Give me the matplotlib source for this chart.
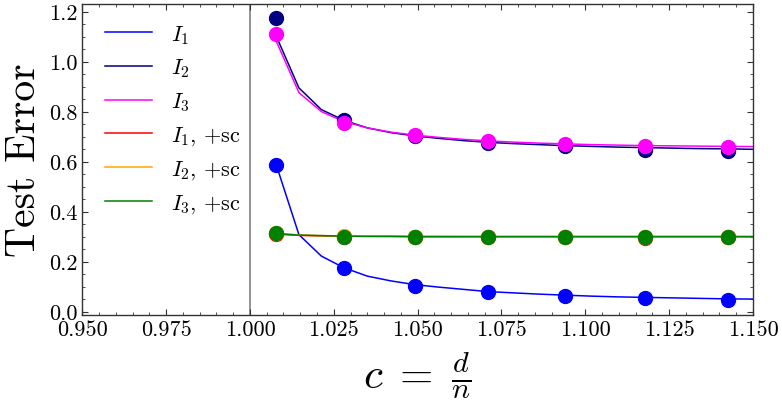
import matplotlib
matplotlib.use("Agg")
import matplotlib.pyplot as plt

plt.rcParams['font.family'] = 'serif'
plt.rcParams['font.serif'] = ['cmr10', 'DejaVu Serif']
plt.rcParams['mathtext.fontset'] = 'cm'
plt.rcParams['axes.formatter.use_mathtext'] = True

# ---- data ----
x_line = [1.0079, 1.0146, 1.0213, 1.0281, 1.0350, 1.0420, 1.0491, 1.0563, 1.0637, 1.0711,
          1.0786, 1.0862, 1.0939, 1.1017, 1.1097, 1.1177, 1.1259, 1.1342, 1.1426, 1.1512]
x_mark = [1.0079, 1.0281, 1.0491, 1.0711, 1.0939, 1.1177, 1.1426]

I1_line = [0.585, 0.308, 0.222, 0.175, 0.142, 0.123, 0.108, 0.098, 0.089, 0.080,
           0.075, 0.070, 0.066, 0.062, 0.059, 0.057, 0.055, 0.053, 0.051, 0.050]
I2_line = [1.100, 0.895, 0.808, 0.765, 0.735, 0.716, 0.703, 0.693, 0.684, 0.677,
           0.672, 0.668, 0.664, 0.661, 0.658, 0.656, 0.654, 0.652, 0.651, 0.649]
I3_line = [1.080, 0.876, 0.800, 0.760, 0.735, 0.718, 0.706, 0.697, 0.689, 0.683,
           0.678, 0.674, 0.671, 0.668, 0.666, 0.664, 0.663, 0.662, 0.661, 0.660]
I1sc_line = [0.310, 0.305, 0.303, 0.302, 0.301, 0.301, 0.300, 0.300, 0.300, 0.300,
             0.300, 0.300, 0.300, 0.300, 0.300, 0.300, 0.300, 0.300, 0.300, 0.300]
I2sc_line = [0.313, 0.307, 0.304, 0.303, 0.302, 0.301, 0.301, 0.301, 0.300, 0.300,
             0.300, 0.300, 0.300, 0.300, 0.300, 0.300, 0.300, 0.300, 0.300, 0.300]
I3sc_line = [0.312, 0.306, 0.304, 0.302, 0.301, 0.301, 0.300, 0.300, 0.300, 0.300,
             0.300, 0.300, 0.300, 0.300, 0.300, 0.300, 0.300, 0.300, 0.300, 0.300]

I1_mark = [0.587, 0.174, 0.104, 0.079, 0.061, 0.053, 0.045]
I2_mark = [1.174, 0.766, 0.702, 0.674, 0.662, 0.648, 0.642]
I3_mark = [1.112, 0.755, 0.706, 0.683, 0.670, 0.663, 0.658]
I1sc_mark = [0.312, 0.300, 0.300, 0.299, 0.299, 0.295, 0.297]
I2sc_mark = [0.313, 0.301, 0.300, 0.300, 0.300, 0.298, 0.298]
I3sc_mark = [0.313, 0.300, 0.300, 0.300, 0.300, 0.299, 0.297]

labels = [r"$I_1$", r"$I_2$", r"$I_3$", r"$I_1$, +sc", r"$I_2$, +sc", r"$I_3$, +sc"]
colors = ["#0000ff", "#000080", "#ff00ff", "#ff0000", "#ffa500", "#008000"]
lines = [I1_line, I2_line, I3_line, I1sc_line, I2sc_line, I3sc_line]
marks = [I1_mark, I2_mark, I3_mark, I1sc_mark, I2sc_mark, I3sc_mark]

fig = plt.figure(figsize=(7.82, 4.06), dpi=100)
ax = fig.add_axes([0.1052, 0.2229, 0.8577, 0.7648])

ax.axvline(1.0, color="#808080", lw=1.2, zorder=1)
for lab, col, yl, ym in zip(labels, colors, lines, marks):
    ax.plot(x_line, yl, color=col, lw=1.1, label=lab, zorder=2)
    ax.plot(x_mark, ym, 'o', color=col, ms=10, zorder=3)

ax.set_xlim(0.95, 1.15)
ax.set_ylim(-0.0115, 1.2305)
ax.set_xticks([0.95, 0.975, 1.0, 1.025, 1.05, 1.075, 1.1, 1.125, 1.15])
ax.set_xticklabels(["0.950", "0.975", "1.000", "1.025", "1.050", "1.075", "1.100", "1.125", "1.150"])
ax.set_yticks([0.0, 0.2, 0.4, 0.6, 0.8, 1.0, 1.2])
ax.set_yticklabels(["0.0", "0.2", "0.4", "0.6", "0.8", "1.0", "1.2"])
ax.xaxis.set_minor_locator(matplotlib.ticker.MultipleLocator(0.005))
ax.yaxis.set_minor_locator(matplotlib.ticker.MultipleLocator(0.05))
ax.tick_params(which='both', direction='in', top=True, right=True, labelsize=16, color='#333333')
ax.tick_params(which='major', length=4.5, width=0.8)
ax.tick_params(which='minor', length=2.5, width=0.6)
for s in ax.spines.values():
    s.set_linewidth(1.0)
    s.set_color('#333333')

ax.set_ylabel("Test Error", fontsize=30, labelpad=4)
ax.set_xlabel(r"$c\;=\;\frac{d}{n}$", fontsize=31, labelpad=7)

ax.legend(loc="upper left", bbox_to_anchor=(0.0206, 0.968), frameon=False, fontsize=16,
          handlelength=2.1, handletextpad=0.85, labelspacing=0.5, borderaxespad=0.0,
          borderpad=0.4)

fig.savefig("out.png", dpi=100)
